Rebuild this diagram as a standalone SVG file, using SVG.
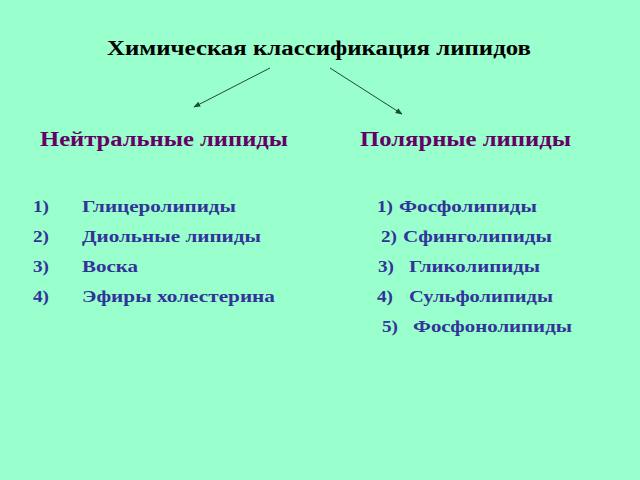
<svg xmlns="http://www.w3.org/2000/svg" width="640" height="480" viewBox="0 0 640 480">
<defs>
<style>
text{font-family:"Liberation Serif","Times New Roman",serif;font-weight:bold}
.t{font-size:20px;fill:#000}
.h{font-size:20px;fill:#660066}
.i{font-size:17px;fill:#333399}
.c line{stroke:#1a4d33;stroke-width:1}
</style>
<marker id="ah" viewBox="0 0 10 10" refX="9" refY="5" markerWidth="7" markerHeight="7" orient="auto"><path d="M0,1 L10,5 L0,9 z" fill="#1a4d33"/></marker>
</defs>
<rect width="640" height="480" fill="#99ffcc"/>
<g id="title"><text class="t" x="107" y="55" textLength="424" lengthAdjust="spacingAndGlyphs">Химическая классификация липидов</text></g>
<g class="c" id="connectors">
<line x1="270" y1="68" x2="194" y2="107" marker-end="url(#ah)"/>
<line x1="330" y1="68" x2="402" y2="114" marker-end="url(#ah)"/>
</g>
<g id="neutral"><text class="h" x="40" y="146" textLength="248" lengthAdjust="spacingAndGlyphs">Нейтральные липиды</text>
<text class="i" x="33" y="212" textLength="16" lengthAdjust="spacingAndGlyphs">1)</text><text class="i" x="82" y="212" textLength="154" lengthAdjust="spacingAndGlyphs">Глицеролипиды</text>
<text class="i" x="33" y="242" textLength="16" lengthAdjust="spacingAndGlyphs">2)</text><text class="i" x="82" y="242" textLength="179" lengthAdjust="spacingAndGlyphs">Диольные липиды</text>
<text class="i" x="33" y="272" textLength="16" lengthAdjust="spacingAndGlyphs">3)</text><text class="i" x="82" y="272" textLength="56" lengthAdjust="spacingAndGlyphs">Воска</text>
<text class="i" x="33" y="302" textLength="16" lengthAdjust="spacingAndGlyphs">4)</text><text class="i" x="82" y="302" textLength="193" lengthAdjust="spacingAndGlyphs">Эфиры холестерина</text>
</g>
<g id="polar"><text class="h" x="360" y="146" textLength="211" lengthAdjust="spacingAndGlyphs">Полярные липиды</text>
<text class="i" x="377" y="212" textLength="16" lengthAdjust="spacingAndGlyphs">1)</text><text class="i" x="399" y="212" textLength="138" lengthAdjust="spacingAndGlyphs">Фосфолипиды</text>
<text class="i" x="381" y="242" textLength="16" lengthAdjust="spacingAndGlyphs">2)</text><text class="i" x="403" y="242" textLength="149" lengthAdjust="spacingAndGlyphs">Сфинголипиды</text>
<text class="i" x="378" y="272" textLength="16" lengthAdjust="spacingAndGlyphs">3)</text><text class="i" x="409" y="272" textLength="131" lengthAdjust="spacingAndGlyphs">Гликолипиды</text>
<text class="i" x="377" y="302" textLength="16" lengthAdjust="spacingAndGlyphs">4)</text><text class="i" x="409" y="302" textLength="144" lengthAdjust="spacingAndGlyphs">Сульфолипиды</text>
<text class="i" x="382" y="332" textLength="16" lengthAdjust="spacingAndGlyphs">5)</text><text class="i" x="413" y="332" textLength="159" lengthAdjust="spacingAndGlyphs">Фосфонолипиды</text>
</g>
</svg>
